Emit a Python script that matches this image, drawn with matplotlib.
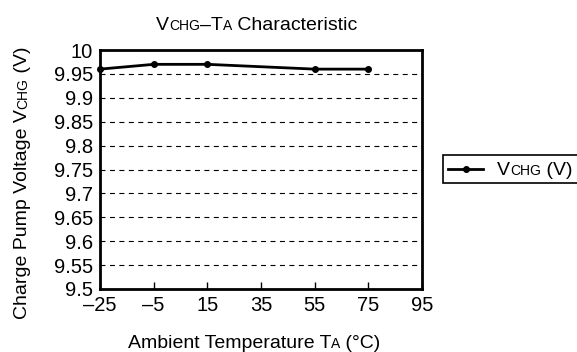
import matplotlib

matplotlib.use("Agg")
import matplotlib.pyplot as plt  # noqa: E402
from matplotlib.lines import Line2D  # noqa: E402
from matplotlib.patches import Rectangle  # noqa: E402
from matplotlib.transforms import IdentityTransform  # noqa: E402

plt.rcParams["font.family"] = ["Liberation Sans", "DejaVu Sans"]

temps = [-25, -5, 15, 55, 75]
vchg = [9.96, 9.97, 9.97, 9.96, 9.96]
x_ticks = [-25, -5, 15, 35, 55, 75, 95]
x_labels = ["\u201325", "\u20135", "15", "35", "55", "75", "95"]
y_ticks = [9.5, 9.55, 9.6, 9.65, 9.7, 9.75, 9.8, 9.85, 9.9, 9.95, 10]
y_labels = ["9.5", "9.55", "9.6", "9.65", "9.7", "9.75", "9.8", "9.85",
            "9.9", "9.95", "10"]

W, H = 577, 352
BIG, SMALL = 14, 10
TICK = 14.5


def rich_text(fig, x, y, parts, rotation=0, align="center"):
    """Place text pieces of different sizes on a shared baseline (pixels)."""
    r = fig.canvas.get_renderer()
    arts, widths = [], []
    for s, size in parts:
        t = fig.text(0, 0, s, fontsize=size, transform=IdentityTransform(),
                     ha="left", va="baseline")
        widths.append(t.get_window_extent(r).width)
        arts.append(t)
    pos = -sum(widths) / 2 if align == "center" else 0
    for t, w in zip(arts, widths):
        if rotation == 90:
            t.set_position((x, y + pos))
            t.set_rotation(90)
            t.set_rotation_mode("anchor")
        else:
            t.set_position((x + pos, y))
        pos += w


fig = plt.figure(figsize=(W / 100, H / 100), dpi=100)
ax = fig.add_axes([100 / W, 1 - 289 / H, 322 / W, 239 / H])

ax.plot(temps, vchg, color="black", linewidth=2, marker="o", markersize=4,
        clip_on=False, zorder=3)
ax.set_xlim(-25, 95)
ax.set_ylim(9.5, 10)
ax.set_xticks(x_ticks)
ax.set_xticklabels(x_labels, fontsize=TICK)
ax.set_yticks(y_ticks)
ax.set_yticklabels(y_labels, fontsize=TICK)
ax.tick_params(axis="x", direction="in", length=5, width=1, pad=5)
ax.tick_params(axis="y", length=0, pad=5)
ax.grid(True, axis="y", color="black", linestyle=(0, (4.5, 4)), linewidth=0.8)
for spine in ax.spines.values():
    spine.set_linewidth(2)

rich_text(fig, 257, H - 30, [("V", BIG), ("CHG", SMALL), ("\u2013T", BIG),
                             ("A", SMALL), (" Characteristic", BIG)])
rich_text(fig, 254, H - 348, [("Ambient Temperature T", BIG), ("A", SMALL),
                              (" (\u00b0C)", BIG)])
rich_text(fig, 27, H - 183, [("Charge Pump Voltage V", BIG), ("CHG", SMALL),
                             (" (V)", BIG)], rotation=90)

# legend box, drawn by hand so the subscript can sit on the baseline
fig.add_artist(Rectangle((443, H - 183), 140, 28, transform=IdentityTransform(),
                         facecolor="white", edgecolor="black", linewidth=1.2))
fig.add_artist(Line2D([448, 483], [H - 168.5, H - 168.5], color="black",
                      linewidth=2, transform=IdentityTransform()))
fig.add_artist(Line2D([465.5], [H - 168.5], color="black", marker="o",
                      markersize=4, transform=IdentityTransform()))
rich_text(fig, 497, H - 175, [("V", BIG), ("CHG", SMALL), (" (V)", BIG)],
          align="left")

fig.savefig("out.png", dpi=100)
